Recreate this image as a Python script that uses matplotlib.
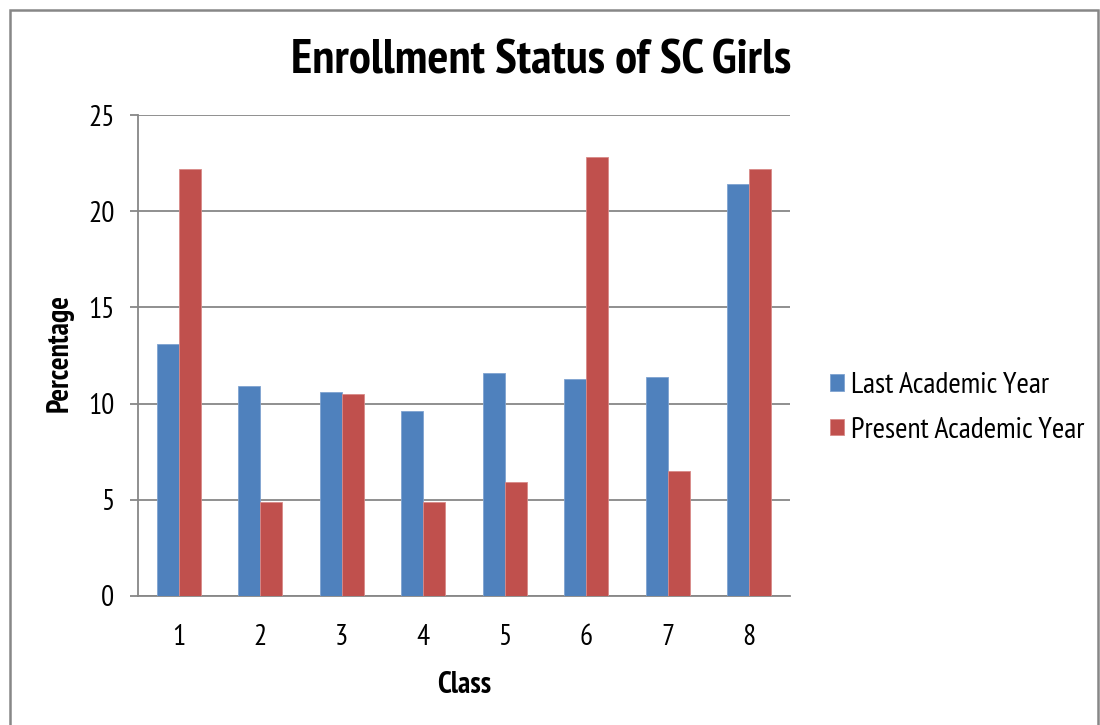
import matplotlib
matplotlib.use("Agg")
import matplotlib.pyplot as plt
from matplotlib.patches import Rectangle
import numpy as np

# Values
classes = ["1", "2", "3", "4", "5", "6", "7", "8"]
last_year = [13.1, 10.9, 10.6, 9.6, 11.6, 11.3, 11.4, 21.4]
present_year = [22.2, 4.9, 10.5, 4.9, 5.9, 22.8, 6.5, 22.2]
series_names = ["Last Academic Year", "Present Academic Year"]

plt.rcParams["font.family"] = ["PT Sans Narrow", "Liberation Sans", "DejaVu Sans"]

W, H = 1100, 725
fig = plt.figure(figsize=(W / 100, H / 100), dpi=100)
ax = fig.add_axes([138 / W, 1 - 596 / H, (790 - 138) / W, (596 - 115) / H])

x = np.arange(1, len(classes) + 1)
w = 0.27
ax.bar(x - w / 2, last_year, w, color="#4F81BD", edgecolor="#7FA3D0", linewidth=0.6,
       label=series_names[0], zorder=3)
ax.bar(x + w / 2, present_year, w, color="#C0504D", edgecolor="#D88A88", linewidth=0.6,
       label=series_names[1], zorder=3)

ax.set_xlim(0.5, 8.5)
ax.set_ylim(0, 25)
ax.set_yticks([0, 5, 10, 15, 20, 25])
ax.set_xticks(x)
ax.set_xticklabels(classes)
ax.yaxis.grid(True, color="#878787", linewidth=1.3, zorder=0)
ax.set_axisbelow(True)

for s in ["top", "right"]:
    ax.spines[s].set_visible(False)
for s in ["left", "bottom"]:
    ax.spines[s].set_color("#878787")
    ax.spines[s].set_linewidth(1.3)

ax.tick_params(axis="y", length=6, width=1.3, color="#878787", pad=11,
               labelsize=21)
ax.tick_params(axis="x", length=0, pad=20, labelsize=21)

fig.text(541 / W, 1 - 73 / H, "Enrollment Status of SC Girls", ha="center",
         va="baseline", fontsize=35.5, fontweight="bold")
fig.text(60 / W, 1 - 353 / H, "Percentage", rotation=90, ha="center", va="center",
         fontsize=21.5, fontweight="bold")
fig.text(464 / W, 1 - 685 / H, "Class", ha="center", va="center",
         fontsize=21.5, fontweight="bold")

ax.legend(loc="center left", bbox_to_anchor=(830 / W, 1 - 408 / H),
          bbox_transform=fig.transFigure, frameon=False, fontsize=21.5,
          handlelength=0.48, handleheight=0.48, handletextpad=0.22,
          labelspacing=0.58, borderpad=0, borderaxespad=0)

# outer chart border
fig.patches.append(Rectangle((10 / W, -0.05), (1098 - 10) / W, 1 - 10 / H + 0.05,
                             transform=fig.transFigure, fill=False,
                             edgecolor="#878787", linewidth=1.8))

fig.savefig("out.png", dpi=100)
